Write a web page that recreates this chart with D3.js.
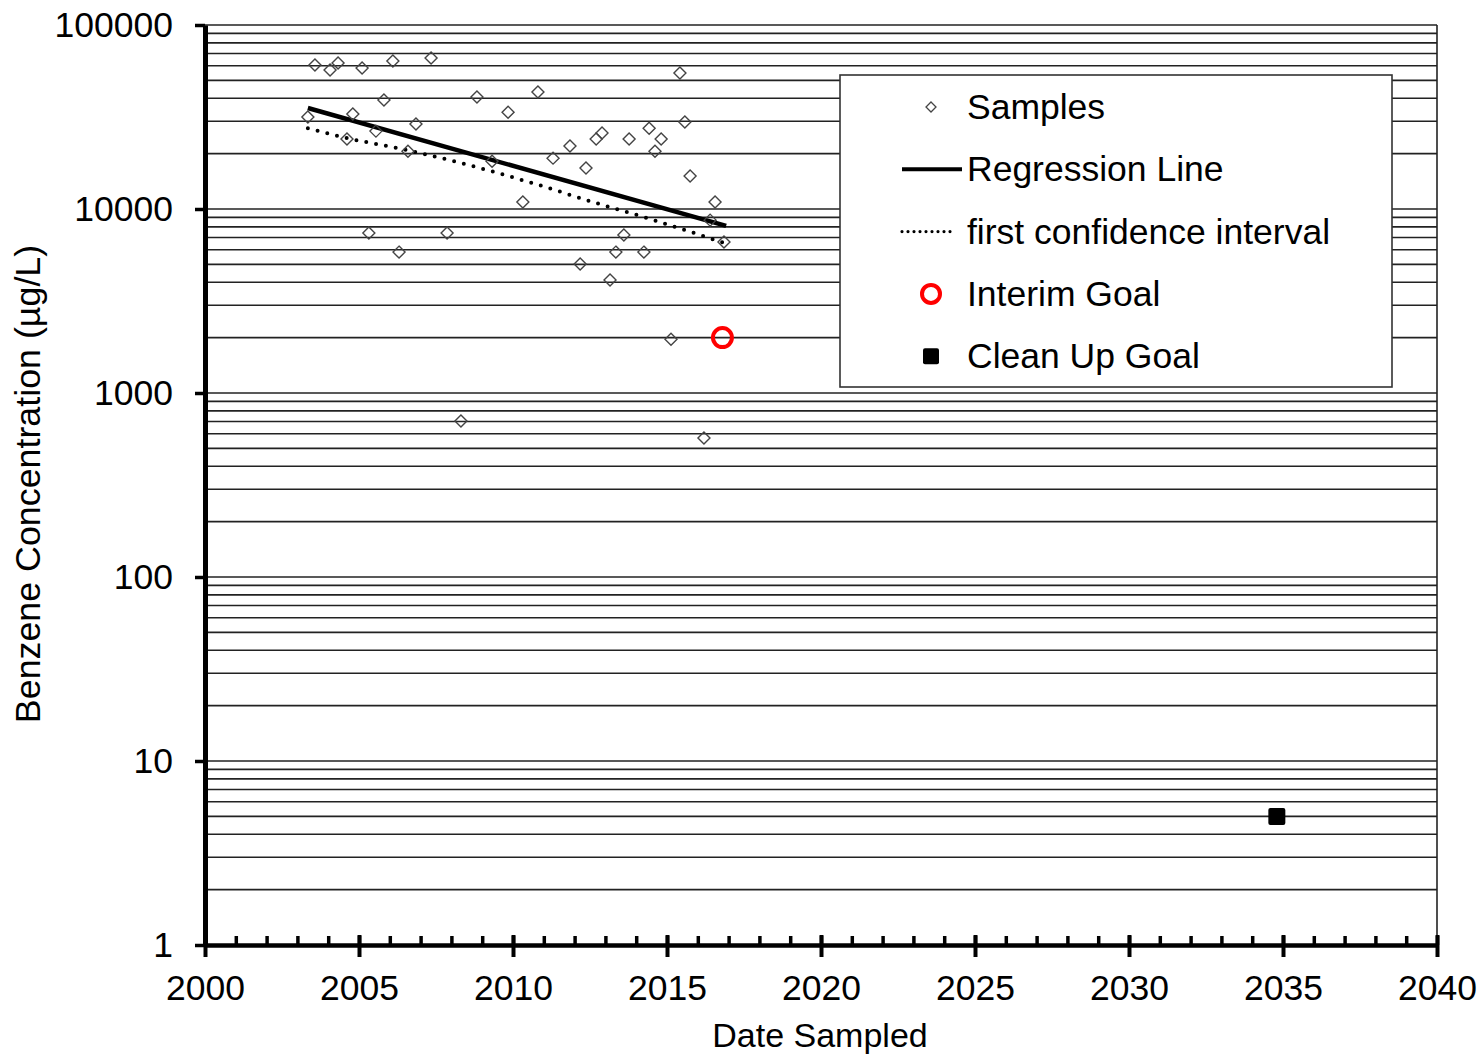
<!DOCTYPE html>
<html>
<head>
<meta charset="utf-8">
<script src="https://cdn.jsdelivr.net/npm/d3@7"></script>
<style>
  html, body { margin: 0; padding: 0; background: #fff; }
  svg text { font-family: "Liberation Sans", Arial, sans-serif; fill: #000; }
</style>
</head>
<body>
<div id="chart"></div>
<script>
// Sampled benzene concentrations (decimal year, ug/L)
const sampleYears = [
  2003.34, 2003.57, 2004.06, 2004.32, 2004.61, 2004.8, 2005.1, 2005.32, 2005.55, 2005.81,
  2006.1, 2006.3, 2006.59, 2006.85, 2007.34, 2007.86, 2008.31, 2008.83, 2009.32, 2009.84,
  2010.32, 2010.81, 2011.3, 2011.85, 2012.18, 2012.37, 2012.7, 2012.89, 2013.15, 2013.34,
  2013.6, 2013.77, 2014.25, 2014.42, 2014.61, 2014.81, 2015.13, 2015.42, 2015.58, 2015.75,
  2016.2, 2016.4, 2016.56, 2016.85
];
const sampleValues = [
  31600, 60600, 57000, 62100, 24000, 32800, 58400, 7410, 26500, 39100,
  63700, 5830, 20600, 29000, 66200, 7410, 705, 40600, 18200, 33600,
  10900, 43300, 18900, 22000, 5030, 16700, 24000, 25900, 4110, 5830,
  7230, 24000, 5830, 27500, 20600, 24000, 1960, 54800, 29700, 15100,
  569, 8700, 10900, 6620
];

// Regression line (straight on the log axis)
const regressionYears = [2003.34, 2016.92];
const regressionValues = [35400, 8090];

// First confidence interval
const ciYears = [2003.34, 2004.61, 2006.56, 2008.18, 2010.65, 2012.6, 2014.45, 2016.85];
const ciValues = [27500, 24300, 20900, 18000, 13800, 10900, 8830, 6540];

const interimGoal = { year: 2016.8, value: 2000 };
const cleanUpGoal = { year: 2034.8, value: 5 };

const legendLabels = ['Samples', 'Regression Line', 'first confidence interval', 'Interim Goal', 'Clean Up Goal'];

const width = 1484;
const height = 1056;
const plotLeft = 205, plotRight = 1437, plotTop = 25, plotBottom = 945;

const svg = d3.select('#chart').append('svg')
  .attr('width', width)
  .attr('height', height);

const x = d3.scaleLinear().domain([2000, 2040]).range([plotLeft, plotRight]);
const y = d3.scaleLog().domain([1, 100000]).range([plotBottom, plotTop]);

// horizontal grid at every log tick
svg.append('g')
  .selectAll('line')
  .data(y.ticks().filter(d => d > 1))
  .join('line')
  .attr('x1', plotLeft).attr('x2', plotRight)
  .attr('y1', d => y(d)).attr('y2', d => y(d))
  .attr('stroke', '#222')
  .attr('stroke-width', 1.6);

// right border
svg.append('line')
  .attr('x1', plotRight).attr('x2', plotRight)
  .attr('y1', plotTop).attr('y2', plotBottom)
  .attr('stroke', '#222')
  .attr('stroke-width', 1.6);

// regression and confidence lines
const line = d3.line().x(d => x(d[0])).y(d => y(d[1]));

svg.append('path')
  .datum(ciYears.map((yr, i) => [yr, ciValues[i]]))
  .attr('d', d3.line().curve(d3.curveMonotoneX).x(d => x(d[0])).y(d => y(d[1])))
  .attr('fill', 'none')
  .attr('stroke', '#000')
  .attr('stroke-width', 4)
  .attr('stroke-linecap', 'round')
  .attr('stroke-dasharray', '0 10');

svg.append('path')
  .datum(regressionYears.map((yr, i) => [yr, regressionValues[i]]))
  .attr('d', line)
  .attr('fill', 'none')
  .attr('stroke', '#000')
  .attr('stroke-width', 4.5);

// samples
const diamond = r => `M0,${-r}L${r},0L0,${r}L${-r},0Z`;
svg.append('g')
  .selectAll('path')
  .data(sampleYears.map((yr, i) => [yr, sampleValues[i]]))
  .join('path')
  .attr('transform', d => `translate(${x(d[0])},${y(d[1])})`)
  .attr('d', diamond(6))
  .attr('fill', 'none')
  .attr('stroke', '#444')
  .attr('stroke-width', 1.4);

// goals
svg.append('circle')
  .attr('cx', x(interimGoal.year))
  .attr('cy', y(interimGoal.value))
  .attr('r', 9.5)
  .attr('fill', 'none')
  .attr('stroke', '#ff0000')
  .attr('stroke-width', 4);

svg.append('rect')
  .attr('x', x(cleanUpGoal.year) - 8.5)
  .attr('y', y(cleanUpGoal.value) - 8.5)
  .attr('width', 17).attr('height', 17)
  .attr('rx', 2)
  .attr('fill', '#000');

// x axis: minor yearly ticks pointing up, major 5-year ticks crossing
const xMinor = svg.append('g')
  .attr('transform', `translate(0,${plotBottom})`)
  .call(d3.axisBottom(x).tickValues(d3.range(2000, 2041, 1)).tickSize(-9).tickSizeOuter(0).tickFormat(''));
xMinor.selectAll('.tick line').attr('stroke-width', 3.5);
xMinor.select('.domain').attr('stroke-width', 4.5);

const xMajor = svg.append('g')
  .attr('transform', `translate(0,${plotBottom})`)
  .call(d3.axisBottom(x).tickValues(d3.range(2000, 2041, 5)).tickSize(12).tickSizeOuter(0).tickPadding(18).tickFormat(d3.format('d')));
xMajor.select('.domain').remove();
xMajor.selectAll('.tick line').attr('y1', -10).attr('stroke-width', 4);
xMajor.selectAll('.tick text').attr('font-size', 35.5);

// y axis
const yAxis = svg.append('g')
  .attr('transform', `translate(${plotLeft},0)`)
  .call(d3.axisLeft(y).tickValues([1, 10, 100, 1000, 10000, 100000]).tickSize(10).tickSizeOuter(0).tickPadding(22).tickFormat(d3.format('d')));
yAxis.select('.domain').attr('stroke-width', 5);
yAxis.selectAll('.tick line').attr('stroke-width', 3.5);
yAxis.selectAll('.tick text').attr('font-size', 35.5);
svg.selectAll('.tick text').style('font-family', '"Liberation Sans", Arial, sans-serif');

// axis titles
svg.append('text')
  .attr('x', 820).attr('y', 1047)
  .attr('text-anchor', 'middle')
  .attr('font-size', 34)
  .text('Date Sampled');

svg.append('text')
  .attr('transform', 'translate(40,484) rotate(-90)')
  .attr('text-anchor', 'middle')
  .attr('font-size', 35.8)
  .text('Benzene Concentration (µg/L)');

// legend
const lg = svg.append('g');
lg.append('rect')
  .attr('x', 840).attr('y', 75)
  .attr('width', 552).attr('height', 312)
  .attr('fill', '#fff')
  .attr('stroke', '#333')
  .attr('stroke-width', 1.6);

const rowY = legendLabels.map((_, i) => 107 + i * 62.3);
const symX = 931;

lg.append('path')
  .attr('transform', `translate(${symX},${rowY[0]})`)
  .attr('d', diamond(5))
  .attr('fill', 'none').attr('stroke', '#444').attr('stroke-width', 1.3);

lg.append('line')
  .attr('x1', 902).attr('x2', 962)
  .attr('y1', rowY[1]).attr('y2', rowY[1])
  .attr('stroke', '#000').attr('stroke-width', 4);

lg.append('line')
  .attr('x1', 902).attr('x2', 956)
  .attr('y1', rowY[2]).attr('y2', rowY[2])
  .attr('stroke', '#000').attr('stroke-width', 3.2)
  .attr('stroke-linecap', 'round')
  .attr('stroke-dasharray', '0 6');

lg.append('circle')
  .attr('cx', symX).attr('cy', rowY[3]).attr('r', 9)
  .attr('fill', 'none').attr('stroke', '#ff0000').attr('stroke-width', 4);

lg.append('rect')
  .attr('x', symX - 8).attr('y', rowY[4] - 8)
  .attr('width', 16).attr('height', 16).attr('rx', 2)
  .attr('fill', '#000');

lg.selectAll('text.lab')
  .data(legendLabels)
  .join('text')
  .attr('class', 'lab')
  .attr('x', 967)
  .attr('y', (d, i) => rowY[i] + 12)
  .attr('font-size', 35.5)
  .text(d => d);
</script>
</body>
</html>
